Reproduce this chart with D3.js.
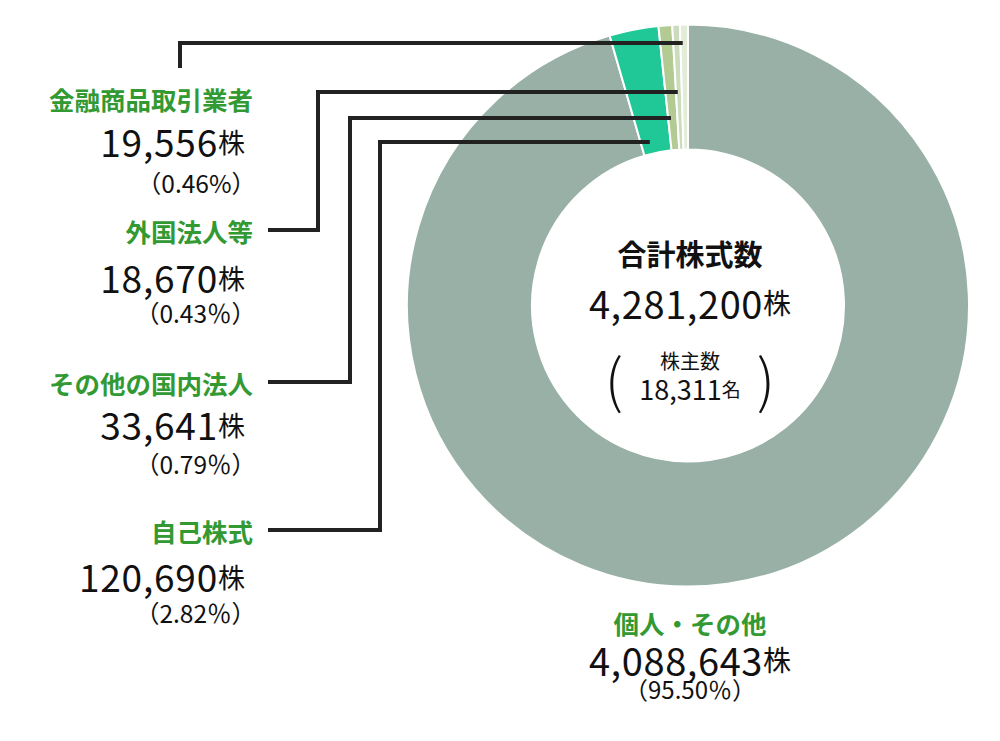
<!DOCTYPE html>
<html>
<head>
<meta charset="utf-8">
<script src="https://cdn.jsdelivr.net/npm/d3@7"></script>
<style>
  body { margin: 0; background: #fff; }
  svg text { font-family: "Noto Sans CJK JP", "Noto Sans", sans-serif; }
</style>
</head>
<body>
<div id="chart"></div>
<script>
// data, clockwise from 12 o'clock
const categories = ["個人・その他", "自己株式", "その他の国内法人", "外国法人等", "金融商品取引業者"];
const shares = [4088643, 120690, 33641, 18670, 19556];
const percents = ["95.50％", "2.82％", "0.79％", "0.43％", "0.46%"];
const colors = ["#98b0a6", "#1fc896", "#b3cb92", "#cbdcbc", "#e3ebd9"];
const totalShares = 4281200;
const shareholders = 18311;

const width = 1000, height = 741;
const cx = 688, cy = 305.5;
const outerR = 281, innerR = 156;

const svg = d3.select("#chart")
	.append("svg")
	.attr("width", width)
	.attr("height", height);

const pie = d3.pie().sort(null).value(d => d.value);
const arcs = pie(categories.map((c, i) => ({ name: c, value: shares[i], pct: percents[i], color: colors[i] })));
const arc = d3.arc().innerRadius(innerR).outerRadius(outerR);

const g = svg.append("g").attr("transform", "translate(" + cx + "," + cy + ")");
g.selectAll("path.slice")
	.data(arcs)
	.enter().append("path")
	.attr("class", "slice")
	.attr("d", arc)
	.attr("fill", d => d.data.color)
	.attr("stroke", "#fff")
	.attr("stroke-width", 2);

const fmt = d3.format(",");
const green = "#339933";

// left labels layout: label y, leader elbow x, leader y at the ring
const leftLayout = {
	"金融商品取引業者": { y: 98, num: 141, pct: 182, elbow: 180, lineY: 43, top: true },
	"外国法人等": { y: 230, num: 277, pct: 312, elbow: 318, lineY: 92 },
	"その他の国内法人": { y: 382, num: 424, pct: 463, elbow: 350, lineY: 118 },
	"自己株式": { y: 530, num: 576, pct: 612, elbow: 380, lineY: 142 }
};

const line = d3.line();
arcs.slice(1).forEach(a => {
	const L = leftLayout[a.data.name];
	// leader ends a little past the slice's leading edge
	const ang = a.startAngle + 0.3 * (a.endAngle - a.startAngle);
	const endX = cx + (cy - L.lineY) * Math.tan(ang);
	const pts = L.top
		? [[L.elbow, L.y - 30], [L.elbow, L.lineY], [endX, L.lineY]]
		: [[268, L.y], [L.elbow, L.y], [L.elbow, L.lineY], [endX, L.lineY]];
	svg.append("path")
		.attr("d", line(pts))
		.attr("fill", "none")
		.attr("stroke", "#222")
		.attr("stroke-width", 4);

	svg.append("text")
		.attr("x", 253).attr("y", L.y)
		.attr("text-anchor", "end")
		.attr("dominant-baseline", "central")
		.attr("fill", green)
		.attr("font-weight", "bold")
		.attr("font-size", 25.5)
		.text(a.data.name);

	const num = svg.append("text")
		.attr("x", 245).attr("y", L.num)
		.attr("text-anchor", "end")
		.attr("dominant-baseline", "central")
		.attr("fill", "#111");
	num.append("tspan").attr("font-size", 37).attr("letter-spacing", 0.8).text(fmt(a.data.value));
	num.append("tspan").attr("font-size", 27).text("株");

	svg.append("text")
		.attr("x", 256).attr("y", L.pct)
		.attr("text-anchor", "end")
		.attr("dominant-baseline", "central")
		.attr("fill", "#111")
		.attr("font-size", 24.5)
		.text("（" + a.data.pct + "）");
});

// bottom label for the large slice
const big = arcs[0].data;
svg.append("text")
	.attr("x", cx + 2).attr("y", 622)
	.attr("text-anchor", "middle")
	.attr("dominant-baseline", "central")
	.attr("fill", green)
	.attr("font-weight", "bold")
	.attr("font-size", 25.5)
	.text(big.name);
const bigNum = svg.append("text")
	.attr("x", cx + 2).attr("y", 659)
	.attr("text-anchor", "middle")
	.attr("dominant-baseline", "central")
	.attr("fill", "#111");
bigNum.append("tspan").attr("font-size", 38).attr("letter-spacing", 0.6).text(fmt(big.value));
bigNum.append("tspan").attr("font-size", 28).text("株");
svg.append("text")
	.attr("x", cx + 2).attr("y", 688)
	.attr("text-anchor", "middle")
	.attr("dominant-baseline", "central")
	.attr("fill", "#111")
	.attr("font-size", 24)
	.text("（" + big.pct + "）");

// centre
svg.append("text")
	.attr("x", cx + 2).attr("y", 253)
	.attr("text-anchor", "middle")
	.attr("dominant-baseline", "central")
	.attr("fill", "#111")
	.attr("font-weight", "bold")
	.attr("font-size", 29)
	.text("合計株式数");
const tot = svg.append("text")
	.attr("x", cx + 2).attr("y", 302)
	.attr("text-anchor", "middle")
	.attr("dominant-baseline", "central")
	.attr("fill", "#111");
tot.append("tspan").attr("font-size", 38).attr("letter-spacing", 0.6).text(fmt(totalShares));
tot.append("tspan").attr("font-size", 28).text("株");

svg.append("text")
	.attr("x", cx + 2).attr("y", 360)
	.attr("text-anchor", "middle")
	.attr("dominant-baseline", "central")
	.attr("fill", "#111")
	.attr("font-size", 20)
	.text("株主数");
const holders = svg.append("text")
	.attr("x", cx + 2).attr("y", 388)
	.attr("text-anchor", "middle")
	.attr("dominant-baseline", "central")
	.attr("fill", "#111");
holders.append("tspan").attr("font-size", 27).text(fmt(shareholders));
holders.append("tspan").attr("font-size", 19).text("名");

[["(", 614], [")", 766]].forEach(p => {
	svg.append("text")
		.attr("x", p[1]).attr("y", 377)
		.attr("text-anchor", "middle")
		.attr("dominant-baseline", "central")
		.attr("fill", "#111")
		.attr("font-size", 58)
		.attr("font-weight", 300)
		.text(p[0]);
});
</script>
</body>
</html>
